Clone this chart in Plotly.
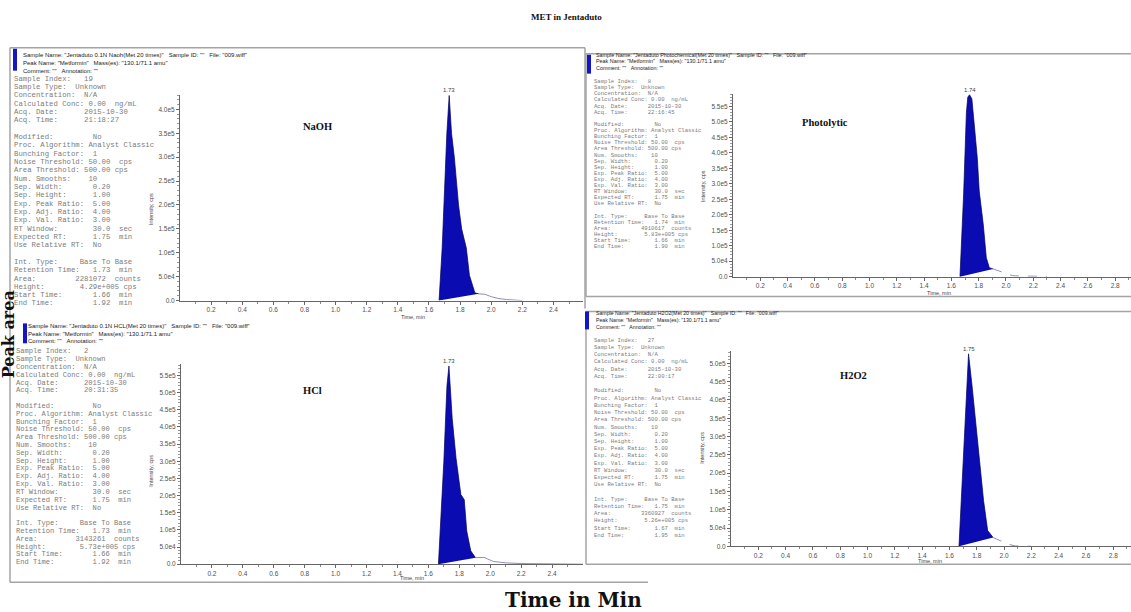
import numpy as np
import plotly.graph_objects as go

W, H = 1131, 612

# ---------------------------------------------------------------- data
title_text = "MET in Jentaduto"
xlabel_text = "Time in Min"
ylabel_text = "Peak area"

# panel order: NaOH (top-left), Photolytic (top-right), HCl (bottom-left), H2O2 (bottom-right)
stress_labels = ["NaOH", "Photolytic", "HCl", "H2O2"]
sample_names = [
    "Jentaduto 0.1N Naoh(Met 20 times)",
    "Jentaduto Photochemical(Met 20 times)",
    "Jentaduto 0.1N HCL(Met 20 times)",
    "Jentaduto H2O2(Met 20 times)",
]
peak_rt_labels = ["1.73", "1.74", "1.73", "1.75"]

# integrated peak (start -> apex -> end), time in min, intensity in cps
naoh_peak_t = [1.665, 1.685, 1.70, 1.715, 1.73, 1.745, 1.763, 1.776, 1.79, 1.81, 1.84, 1.86, 1.895, 1.92]
naoh_peak_i = [0, 1.1e5, 2.3e5, 3.5e5, 4.29e5, 3.5e5, 3.0e5, 2.5e5, 2.0e5, 1.5e5, 1.1e5, 5.3e4, 1.6e4, 1.4e4]
naoh_tail_t = [1.92, 1.96, 2.0, 2.05, 2.1, 2.2]
naoh_tail_i = [1.4e4, 1.3e4, 8e3, 4e3, 2e3, 0]

photo_peak_t = [1.663, 1.69, 1.71, 1.72, 1.733, 1.75, 1.768, 1.79, 1.804, 1.834, 1.856, 1.878, 1.905]
photo_peak_i = [0, 2.7e5, 5.3e5, 5.8e5, 5.88e5, 5.75e5, 4.9e5, 3.83e5, 2.77e5, 1.67e5, 6.1e4, 2.9e4, 2.5e4]
photo_tail_t = [1.905, 1.95, 2.0, 2.05, 2.1, 2.2, 2.3]
photo_tail_i = [2.5e4, 1.8e4, 9e3, 3e3, 2e3, 1.5e3, 1e3]

hcl_peak_t = [1.665, 1.70, 1.72, 1.733, 1.754, 1.779, 1.81, 1.832, 1.848, 1.874, 1.905]
hcl_peak_i = [0, 3.0e5, 5.2e5, 5.78e5, 4.25e5, 3.09e5, 2.03e5, 1.88e5, 9.7e4, 3.9e4, 1.9e4]
hcl_tail_t = [1.905, 1.96, 2.02, 2.1, 2.2, 2.4, 2.6]
hcl_tail_i = [1.9e4, 2.0e4, 8e3, 4e3, 2e3, 1e3, 0]

h2o2_peak_t = [1.67, 1.70, 1.72, 1.74, 1.765, 1.80, 1.825, 1.85, 1.88, 1.91, 1.92]
h2o2_peak_i = [0, 2.3e5, 3.8e5, 5.26e5, 4.41e5, 3.15e5, 2.15e5, 1.25e5, 4.3e4, 2.6e4, 2.4e4]
h2o2_tail_t = [1.92, 1.98, 2.03, 2.08, 2.2]
h2o2_tail_i = [2.4e4, 1.5e4, 6e3, 1e3, 0]

# tick labels
x_tick_vals_left = [0.2, 0.4, 0.6, 0.8, 1.0, 1.2, 1.4, 1.6, 1.8, 2.0, 2.2, 2.4]
x_tick_text_left = ["0.2", "0.4", "0.6", "0.8", "1.0", "1.2", "1.4", "1.6", "1.8", "2.0", "2.2", "2.4"]
x_tick_vals_right = [0.2, 0.4, 0.6, 0.8, 1.0, 1.2, 1.4, 1.6, 1.8, 2.0, 2.2, 2.4, 2.6, 2.8]
x_tick_text_right = ["0.2", "0.4", "0.6", "0.8", "1.0", "1.2", "1.4", "1.6", "1.8", "2.0", "2.2", "2.4", "2.6", "2.8"]

naoh_y_tick_vals = [0, 5e4, 1e5, 1.5e5, 2e5, 2.5e5, 3e5, 3.5e5, 4e5]
naoh_y_tick_text = ["0.0", "5.0e4", "1.0e5", "1.5e5", "2.0e5", "2.5e5", "3.0e5", "3.5e5", "4.0e5"]
photo_y_tick_vals = [0, 5e4, 1e5, 1.5e5, 2e5, 2.5e5, 3e5, 3.5e5, 4e5, 4.5e5, 5e5, 5.5e5]
photo_y_tick_text = ["0.0", "5.0e4", "1.0e5", "1.5e5", "2.0e5", "2.5e5", "3.0e5", "3.5e5", "4.0e5", "4.5e5", "5.0e5", "5.5e5"]
hcl_y_tick_vals = [0, 5e4, 1e5, 1.5e5, 2e5, 2.5e5, 3e5, 3.5e5, 4e5, 4.5e5, 5e5, 5.5e5]
hcl_y_tick_text = ["0.0", "5.0e4", "1.0e5", "1.5e5", "2.0e5", "2.5e5", "3.0e5", "3.5e5", "4.0e5", "4.5e5", "5.0e5", "5.5e5"]
h2o2_y_tick_vals = [0, 5e4, 1e5, 1.5e5, 2e5, 2.5e5, 3e5, 3.5e5, 4e5, 4.5e5, 5e5]
h2o2_y_tick_text = ["0.0", "5.0e4", "1.0e5", "1.5e5", "2.0e5", "2.5e5", "3.0e5", "3.5e5", "4.0e5", "4.5e5", "5.0e5"]

# Analyst report parameter blocks
param_labels = ["Sample Index:", "Sample Type:", "Concentration:", "Calculated Conc:", "Acq. Date:", "Acq. Time:", "",
                "Modified:", "Proc. Algorithm:", "Bunching Factor:", "Noise Threshold:", "Area Threshold:",
                "Num. Smooths:", "Sep. Width:", "Sep. Height:", "Exp. Peak Ratio:", "Exp. Adj. Ratio:",
                "Exp. Val. Ratio:", "RT Window:", "Expected RT:", "Use Relative RT:", "",
                "Int. Type:", "Retention Time:", "Area:", "Height:", "Start Time:", "End Time:"]
param_units = ["", "", "", "ng/mL", "", "", "", "", "", "", "cps", "cps", "", "", "", "", "", "", "sec", "min", "", "",
               "", "min", "counts", "cps", "min", "min"]
naoh_values = ["19", "Unknown", "N/A", "0.00", "2015-10-30", "21:18:27", "", "No", "Analyst Classic", "1", "50.00",
               "500.00", "10", "0.20", "1.00", "5.00", "4.00", "3.00", "30.0", "1.75", "No", "",
               "Base To Base", "1.73", "2281072", "4.29e+005", "1.66", "1.92"]
photo_values = ["8", "Unknown", "N/A", "0.00", "2015-10-30", "22:16:45", "", "No", "Analyst Classic", "1", "50.00",
                "500.00", "10", "0.20", "1.00", "5.00", "4.00", "3.00", "30.0", "1.75", "No", "",
                "Base To Base", "1.74", "4910617", "5.83e+005", "1.66", "1.90"]
hcl_values = ["2", "Unknown", "N/A", "0.00", "2015-10-30", "20:31:35", "", "No", "Analyst Classic", "1", "50.00",
              "500.00", "10", "0.20", "1.00", "5.00", "4.00", "3.00", "30.0", "1.75", "No", "",
              "Base To Base", "1.73", "3143261", "5.73e+005", "1.66", "1.92"]
h2o2_values = ["27", "Unknown", "N/A", "0.00", "2015-10-30", "22:00:17", "", "No", "Analyst Classic", "1", "50.00",
               "500.00", "10", "0.20", "1.00", "5.00", "4.00", "3.00", "30.0", "1.75", "No", "",
               "Base To Base", "1.75", "3360927", "5.26e+005", "1.67", "1.95"]

# ---------------------------------------------------------------- layout helpers
NB = "\u00a0"
BLUE = "#0b0bb2"
BAR_BLUE = "#1414c8"
FRAME = "#a4a4a4"


def px(x):
    return x / W


def py(y):
    return 1 - y / H


annotations = []
shapes = []


def add_text(x, y, text, size, color="#333333", family="Liberation Sans", xanchor="left",
             yanchor="middle", angle=0, bold=False):
    annotations.append(dict(
        x=px(x), y=py(y), xref="paper", yref="paper", text=text, showarrow=False,
        xanchor=xanchor, yanchor=yanchor, textangle=angle, borderpad=0,
        font=dict(size=size, color=color, family=family, weight="bold" if bold else "normal")))


def add_line(x0, y0, x1, y1, color=FRAME, width=1.5):
    shapes.append(dict(type="line", xref="paper", yref="paper", x0=px(x0), y0=py(y0), x1=px(x1), y1=py(y1),
                       line=dict(color=color, width=width), layer="below"))


def add_rect(x0, y0, x1, y1, fill, line_color=None, width=0):
    shapes.append(dict(type="rect", xref="paper", yref="paper", x0=px(x0), y0=py(y0), x1=px(x1), y1=py(y1),
                       fillcolor=fill, line=dict(color=line_color or fill, width=width), layer="below"))


val_cols = [16, 14, 16, 17, 16, 16, 0, 18, 17, 18, 17, 16, 17, 18, 18, 18, 18, 18, 18, 18, 18, 0, 15, 18, 14, 15, 18, 18]
unit_cols = [0, 0, 0, 23, 0, 0, 0, 0, 0, 0, 24, 23, 0, 0, 0, 0, 0, 0, 24, 24, 0, 0, 0, 24, 23, 25, 24, 24]


def param_line(k, value):
    lab = param_labels[k]
    if not lab:
        return ""
    s = lab + NB * max(1, val_cols[k] - len(lab)) + value
    if param_units[k]:
        s += NB * max(1, unit_cols[k] - len(s)) + param_units[k]
    return s


# ---------------------------------------------------------------- panels
panels = [
    dict(pt=naoh_peak_t, pi=naoh_peak_i, tt=naoh_tail_t, ti=naoh_tail_i, vals=naoh_values,
         xd=(180, 583), yd=(95, 302), xr=2.59, yr=4.31e5,
         xtv=x_tick_vals_left, xtt=x_tick_text_left, ytv=naoh_y_tick_vals, ytt=naoh_y_tick_text,
         block=(13, 79, 8.37, 7.3), head=(22, 55, 8.0, 6.0), bar=(13, 49, 17, 71),
         ytitle=(151, 210), xtitle=(413, 319), lab=(317, 127), dash="solid"),
    dict(pt=photo_peak_t, pi=photo_peak_i, tt=photo_tail_t, ti=photo_tail_i, vals=photo_values,
         xd=(733, 1131), yd=(94, 278), xr=2.916, yr=5.92e5,
         xtv=x_tick_vals_right, xtt=x_tick_text_right, ytv=photo_y_tick_vals, ytt=photo_y_tick_text,
         block=(593, 82, 6.15, 5.6), head=(595, 55, 6.5, 5.4), bar=(587, 55, 591, 74),
         ytitle=(703, 187), xtitle=(939, 294), lab=(825, 123), dash="dash"),
    dict(pt=hcl_peak_t, pi=hcl_peak_i, tt=hcl_tail_t, ti=hcl_tail_i, vals=hcl_values,
         xd=(181, 583), yd=(366, 567), xr=2.60, yr=5.83e5,
         xtv=x_tick_vals_left, xtt=x_tick_text_left, ytv=hcl_y_tick_vals, ytt=hcl_y_tick_text,
         block=(15, 353, 7.85, 7.1), head=(27, 328, 7.5, 6.0), bar=(23, 325, 27, 345),
         ytitle=(151, 473), xtitle=(412, 581), lab=(312, 392), dash="solid"),
    dict(pt=h2o2_peak_t, pi=h2o2_peak_i, tt=h2o2_tail_t, ti=h2o2_tail_i, vals=h2o2_values,
         xd=(731, 1131), yd=(353, 549), xr=2.93, yr=5.33e5,
         xtv=x_tick_vals_right, xtt=x_tick_text_right, ytv=h2o2_y_tick_vals, ytt=h2o2_y_tick_text,
         block=(593, 342, 7.26, 5.6), head=(595, 315, 6.7, 5.2), bar=(585, 313, 589, 331),
         ytitle=(702, 450), xtitle=(930, 563.5), lab=(853, 377), dash="dash"),
]

# frames (panel 4 overlays the right part of panel 3)
add_line(10, 48, 585, 48)
add_line(10, 48, 10, 585)
add_line(585, 48, 585, 310)
add_line(10, 585, 648, 585)
add_line(586, 54, 1131, 54)
add_line(586, 54, 586, 298)
add_line(586, 298, 1131, 298)
add_rect(586, 313, 1131, 567, "white")
add_line(586, 313, 1131, 313)
add_line(586, 313, 586, 567)
add_line(586, 567, 1131, 567)

fig = go.Figure()
layout_axes = {}
for k, p in enumerate(panels):
    n = "" if k == 0 else str(k + 1)
    xa, ya = "x" + n, "y" + n
    fig.add_trace(go.Scatter(x=p["pt"], y=p["pi"], mode="lines", fill="toself", fillcolor=BLUE,
                             line=dict(color="#00005c", width=0.7), xaxis=xa, yaxis=ya,
                             hoverinfo="skip", showlegend=False))
    fig.add_trace(go.Scatter(x=p["tt"], y=p["ti"], mode="lines",
                             line=dict(color="#8f8fb2", width=1, dash=p["dash"]), xaxis=xa, yaxis=ya,
                             hoverinfo="skip", showlegend=False))
    tickfont = dict(size=6.5, family="Liberation Sans", color="#505050")
    layout_axes["xaxis" + n] = dict(
        domain=[px(p["xd"][0]), px(p["xd"][1])], range=[0, p["xr"]], anchor=ya,
        showline=True, linecolor="#666666", linewidth=1, showgrid=False, zeroline=False,
        ticks="outside", ticklen=3, tickcolor="#666666", tickmode="array",
        tickvals=p["xtv"], ticktext=p["xtt"], tickfont=tickfont, fixedrange=True,
        minor=dict(ticks="outside", ticklen=2, tickcolor="#888888", tickmode="array",
                   tickvals=list(np.round(np.arange(0.1, p["xr"], 0.2), 3))))
    layout_axes["yaxis" + n] = dict(
        domain=[py(p["yd"][1]), py(p["yd"][0])], range=[0, p["yr"]], anchor=xa,
        showline=True, linecolor="#666666", linewidth=1, showgrid=False, zeroline=False,
        ticks="outside", ticklen=3, tickcolor="#666666", tickmode="array",
        tickvals=p["ytv"], ticktext=p["ytt"], tickfont=tickfont, fixedrange=True,
        minor=dict(ticks="outside", ticklen=2, tickcolor="#999999", tickmode="array",
                   tickvals=list(np.arange(1e4, p["yr"], 1e4))))

    # apex label
    a = int(np.argmax(p["pi"]))
    annotations.append(dict(x=p["pt"][a], y=p["pi"][a], xref=xa, yref=ya, text=peak_rt_labels[k],
                            showarrow=False, yanchor="bottom", yshift=0,
                            font=dict(size=6, family="Liberation Sans", color="#444444")))

    # header
    hx, hy, hdy, hs = p["head"]
    hfam = "Liberation Sans Narrow, Liberation Sans"
    add_text(hx, hy, f'Sample Name: "{sample_names[k]}"{NB*3}Sample ID: ""{NB*3}File: "009.wiff"', hs,
             color="#222222", family=hfam)
    add_text(hx, hy + hdy, f'Peak Name: "Metformin"{NB*3}Mass(es): "130.1/71.1 amu"', hs,
             color="#222222", family=hfam)
    add_text(hx, hy + 2 * hdy, f'Comment: ""{NB*3}Annotation: ""', hs, color="#222222", family=hfam)
    bx0, by0, bx1, by1 = p["bar"]
    add_rect(bx0, by0, bx1, by1, BAR_BLUE)

    # parameter block
    x0, y0, dy, fs = p["block"]
    for j in range(len(param_labels)):
        s = param_line(j, p["vals"][j])
        if s:
            add_text(x0, y0 + j * dy, s, fs, color="#7c7c7c", family="Liberation Mono")

    # axis titles and stress label
    add_text(p["ytitle"][0], p["ytitle"][1], "Intensity, cps", 5.5, color="#444444", xanchor="center", angle=-90)
    add_text(p["xtitle"][0], p["xtitle"][1], "Time, min", 5.5, color="#444444", xanchor="center")
    add_text(p["lab"][0], p["lab"][1], stress_labels[k], 10.5, color="#111111", family="Liberation Serif",
             xanchor="center", bold=True)

# global texts
add_text(566, 17, title_text, 9, color="#111111", family="Liberation Serif", xanchor="center", bold=True)
add_text(573, 603, xlabel_text, 20, color="#111111", family="DejaVu Serif", xanchor="center", bold=True)
add_text(8, 336, ylabel_text, 16, color="#111111", family="DejaVu Serif", xanchor="center", angle=-90, bold=True)

fig.update_layout(
    width=W, height=H, margin=dict(l=0, r=0, t=0, b=0),
    paper_bgcolor="white", plot_bgcolor="rgba(0,0,0,0)",
    showlegend=False, shapes=shapes, annotations=annotations, **layout_axes)

fig.write_html("out.html")
